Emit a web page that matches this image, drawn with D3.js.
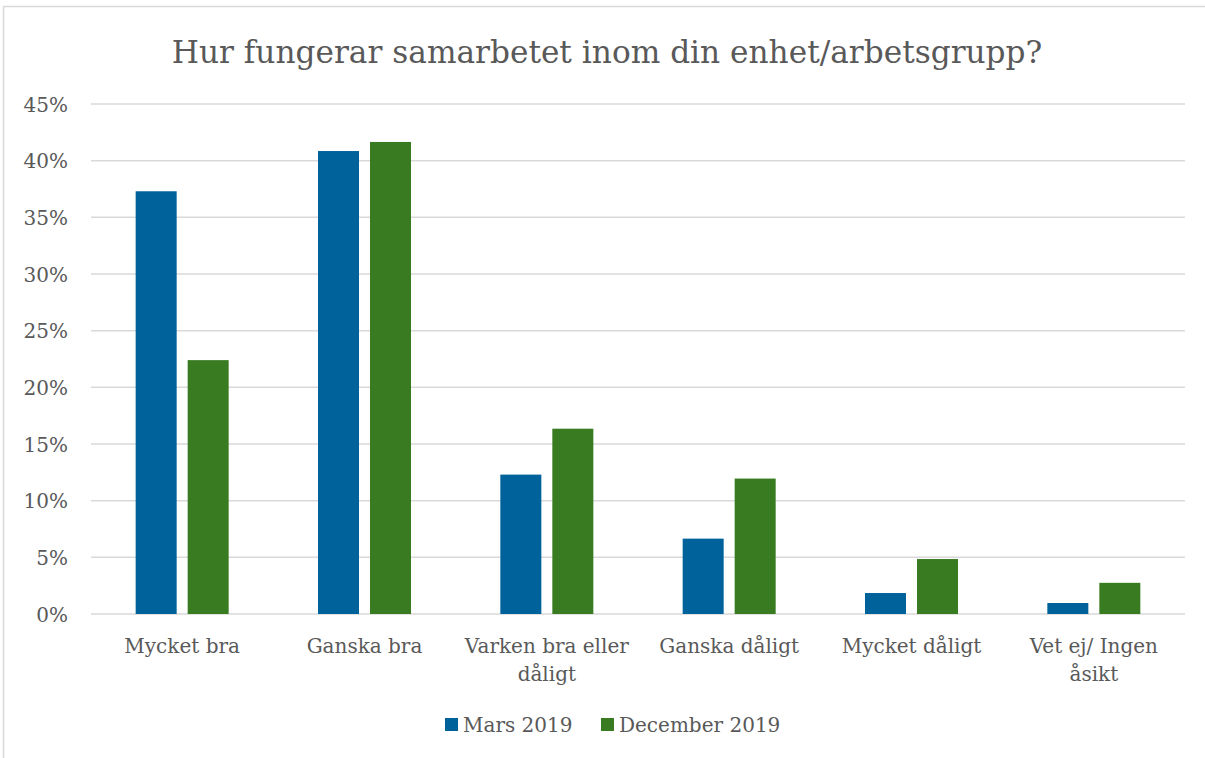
<!DOCTYPE html>
<html><head><meta charset="utf-8">
<script src="https://cdn.jsdelivr.net/npm/d3@7"></script>
<style>body{margin:0;background:#fff}svg{display:block}text{font-family:"DejaVu Serif",serif;fill:#595959}</style>
</head><body><svg id="c" width="1205" height="758"></svg>
<script>
const categories = [["Mycket bra"],["Ganska bra"],["Varken bra eller","dåligt"],["Ganska dåligt"],["Mycket dåligt"],["Vet ej/ Ingen","åsikt"]];
const seriesNames = ["Mars 2019","December 2019"];
const mars2019 = [37.3, 40.85, 12.3, 6.65, 1.85, 0.97];
const december2019 = [22.4, 41.65, 16.35, 11.95, 4.85, 2.75];
const yTicks = [0,5,10,15,20,25,30,35,40,45];
const colors = ["#00629B","#387B21"];

const svg = d3.select("#c");
const W=1205,H=758;
const m={l:91,r:20,t:104,b:144};
svg.append("rect").attr("x",3.5).attr("y",6.5).attr("width",1300).attr("height",800).attr("fill","#fff").attr("stroke","#d9d9d9").attr("stroke-width",1.5);

const x0=d3.scaleBand().domain(d3.range(categories.length)).range([m.l,W-m.r]).paddingInner(0).paddingOuter(0);
const y=d3.scaleLinear().domain([0,45]).range([H-m.b,m.t]);
const x1=d3.scaleBand().domain([0,1]).range([0,x0.bandwidth()]).paddingInner(0.2115).paddingOuter(0.859);

function fit(sel,target){const w=sel.node().getComputedTextLength();const fs=parseFloat(sel.attr("font-size"));sel.attr("font-size",fs*target/w);}

// grid
svg.append("g").selectAll("line").data(yTicks).join("line")
 .attr("x1",m.l).attr("x2",W-m.r).attr("y1",d=>y(d)).attr("y2",d=>y(d))
 .attr("stroke","#d9d9d9").attr("stroke-width",1.5);
// y labels
const yax=d3.axisLeft(y).tickValues(yTicks).tickFormat(d=>d+"%").tickSize(0).tickPadding(23);
const ga=svg.append("g").attr("transform",`translate(${m.l},0)`).call(yax);
ga.select(".domain").remove();
ga.selectAll("text").attr("font-size",20).attr("font-family","DejaVu Serif").attr("fill","#595959").attr("dy","0.35em");

// bars
const data=[mars2019,december2019];
categories.forEach((c,i)=>{
  const g=svg.append("g").attr("transform",`translate(${x0(i)},0)`);
  g.selectAll("rect").data([0,1]).join("rect")
   .attr("x",s=>x1(s)).attr("width",x1.bandwidth())
   .attr("y",s=>y(data[s][i])).attr("height",s=>y(0)-y(data[s][i]))
   .attr("fill",s=>colors[s]);
});
// category labels
categories.forEach((c,i)=>{
  const t=svg.append("text").attr("x",x0(i)+x0.bandwidth()/2).attr("y",653).attr("text-anchor","middle").attr("font-size",20);
  c.forEach((line,k)=>t.append("tspan").attr("x",x0(i)+x0.bandwidth()/2).attr("dy",k?28:0).text(line));
});
// title
const title=svg.append("text").attr("x",607).attr("y",63).attr("text-anchor","middle").attr("font-size",30).text("Hur fungerar samarbetet inom din enhet/arbetsgrupp?");
fit(title,871);
// legend
const lx=[445,601];
seriesNames.forEach((n,s)=>{
  svg.append("rect").attr("x",lx[s]).attr("y",718).attr("width",13).attr("height",13).attr("fill",colors[s]);
  svg.append("text").attr("x",lx[s]+18).attr("y",732).attr("font-size",20).text(n);
});
</script></body></html>
